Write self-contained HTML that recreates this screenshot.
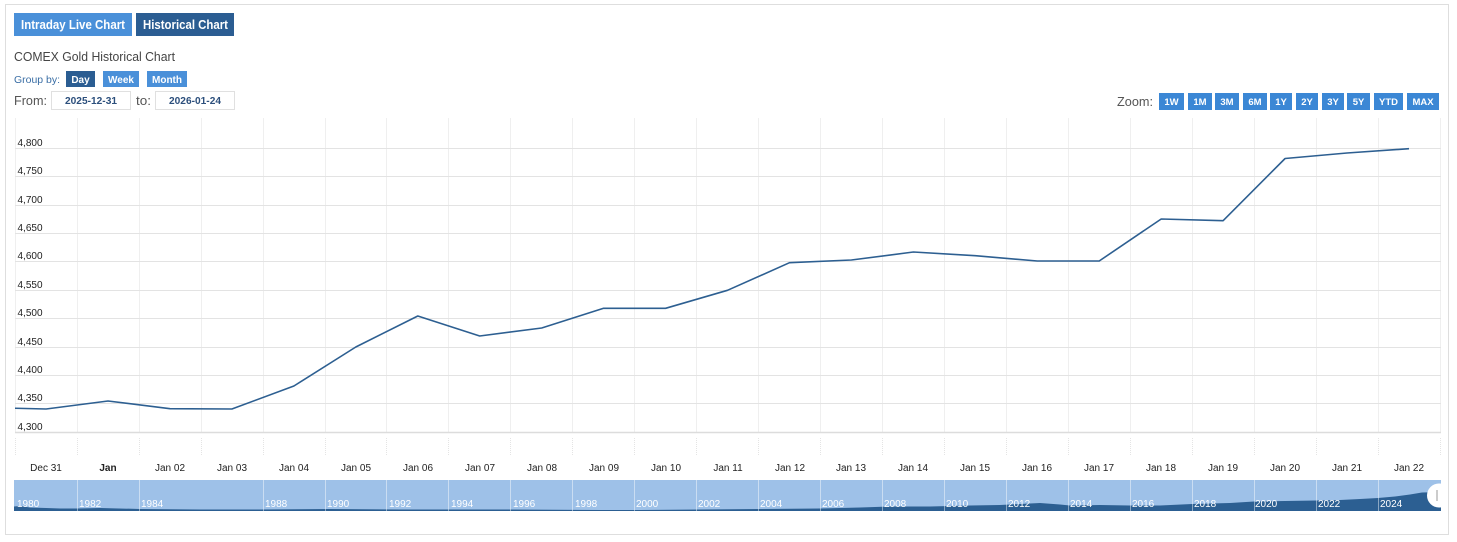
<!DOCTYPE html>
<html><head><meta charset="utf-8"><style>
html,body{margin:0;padding:0;background:#fff;}
svg{display:block;font-family:"Liberation Sans",Arial,sans-serif;}
</style></head><body>
<svg width="1457" height="542" viewBox="0 0 1457 542" xmlns="http://www.w3.org/2000/svg">
<rect x="0" y="0" width="1457" height="542" fill="#fff"/>
<rect x="5.5" y="4.5" width="1443" height="530" fill="#fff" stroke="#dedede"/>

<!-- top tabs -->
<rect x="14" y="13" width="118" height="23" fill="#4a90d9"/>
<text x="21" y="29" font-size="12.5" font-weight="bold" fill="#fff" textLength="104" lengthAdjust="spacingAndGlyphs">Intraday Live Chart</text>
<rect x="136" y="13" width="98" height="23" fill="#2b5d92"/>
<text x="143" y="29" font-size="12.5" font-weight="bold" fill="#fff" textLength="85" lengthAdjust="spacingAndGlyphs">Historical Chart</text>

<text x="14" y="61" font-size="13" fill="#444" textLength="161" lengthAdjust="spacingAndGlyphs">COMEX Gold Historical Chart</text>

<text x="14" y="83" font-size="10" fill="#3a6ea5" textLength="46" lengthAdjust="spacingAndGlyphs">Group by:</text>
<rect x="66" y="71" width="29" height="16" fill="#2b5d92"/>
<text x="80.5" y="83" font-size="10" font-weight="bold" fill="#fff" text-anchor="middle">Day</text>
<rect x="103" y="71" width="36" height="16" fill="#4a90d9"/>
<text x="121" y="83" font-size="10" font-weight="bold" fill="#fff" text-anchor="middle">Week</text>
<rect x="147" y="71" width="40" height="16" fill="#4a90d9"/>
<text x="167" y="83" font-size="10" font-weight="bold" fill="#fff" text-anchor="middle">Month</text>

<text x="14" y="105" font-size="12.5" fill="#555" textLength="33" lengthAdjust="spacingAndGlyphs">From:</text>
<rect x="51.5" y="91.5" width="79" height="18" fill="#fff" stroke="#e0e0e0"/>
<text x="91" y="104" font-size="10" font-weight="bold" fill="#2c4f7c" text-anchor="middle" textLength="52" lengthAdjust="spacingAndGlyphs">2025-12-31</text>
<text x="136" y="105" font-size="12.5" fill="#555" textLength="15" lengthAdjust="spacingAndGlyphs">to:</text>
<rect x="155.5" y="91.5" width="79" height="18" fill="#fff" stroke="#e0e0e0"/>
<text x="195" y="104" font-size="10" font-weight="bold" fill="#2c4f7c" text-anchor="middle" textLength="52" lengthAdjust="spacingAndGlyphs">2026-01-24</text>

<!-- zoom -->
<text x="1117" y="106" font-size="12.5" fill="#555" textLength="36" lengthAdjust="spacingAndGlyphs">Zoom:</text>
<g font-size="9.5" font-weight="bold" fill="#fff" text-anchor="middle">
<rect x="1159" y="93" width="25" height="17" fill="#3b87d5"/><text x="1171.5" y="105">1W</text>
<rect x="1188" y="93" width="24" height="17" fill="#3b87d5"/><text x="1200" y="105">1M</text>
<rect x="1215" y="93" width="24" height="17" fill="#3b87d5"/><text x="1227" y="105">3M</text>
<rect x="1243" y="93" width="24" height="17" fill="#3b87d5"/><text x="1255" y="105">6M</text>
<rect x="1270" y="93" width="22" height="17" fill="#3b87d5"/><text x="1281" y="105">1Y</text>
<rect x="1296" y="93" width="22" height="17" fill="#3b87d5"/><text x="1307" y="105">2Y</text>
<rect x="1322" y="93" width="22" height="17" fill="#3b87d5"/><text x="1333" y="105">3Y</text>
<rect x="1347" y="93" width="23" height="17" fill="#3b87d5"/><text x="1358.5" y="105">5Y</text>
<rect x="1374" y="93" width="29" height="17" fill="#3b87d5"/><text x="1388.5" y="105">YTD</text>
<rect x="1407" y="93" width="32" height="17" fill="#3b87d5"/><text x="1423" y="105">MAX</text>
</g>

<!-- vertical gridlines -->
<g stroke="#efefef" stroke-width="1">
<line x1="15.5" y1="118" x2="15.5" y2="432"/>
<line x1="77.5" y1="118" x2="77.5" y2="432"/>
<line x1="139.5" y1="118" x2="139.5" y2="432"/>
<line x1="201.5" y1="118" x2="201.5" y2="432"/>
<line x1="263.5" y1="118" x2="263.5" y2="432"/>
<line x1="325.5" y1="118" x2="325.5" y2="432"/>
<line x1="386.5" y1="118" x2="386.5" y2="432"/>
<line x1="448.5" y1="118" x2="448.5" y2="432"/>
<line x1="510.5" y1="118" x2="510.5" y2="432"/>
<line x1="572.5" y1="118" x2="572.5" y2="432"/>
<line x1="634.5" y1="118" x2="634.5" y2="432"/>
<line x1="696.5" y1="118" x2="696.5" y2="432"/>
<line x1="758.5" y1="118" x2="758.5" y2="432"/>
<line x1="820.5" y1="118" x2="820.5" y2="432"/>
<line x1="882.5" y1="118" x2="882.5" y2="432"/>
<line x1="944.5" y1="118" x2="944.5" y2="432"/>
<line x1="1006.5" y1="118" x2="1006.5" y2="432"/>
<line x1="1068.5" y1="118" x2="1068.5" y2="432"/>
<line x1="1130.5" y1="118" x2="1130.5" y2="432"/>
<line x1="1192.5" y1="118" x2="1192.5" y2="432"/>
<line x1="1254.5" y1="118" x2="1254.5" y2="432"/>
<line x1="1316.5" y1="118" x2="1316.5" y2="432"/>
<line x1="1378.5" y1="118" x2="1378.5" y2="432"/>
<line x1="1440.5" y1="118" x2="1440.5" y2="432"/>
</g>
<!-- x tick dotted -->
<g stroke="#e4e4e4" stroke-width="1" stroke-dasharray="1,1">
<line x1="15.5" y1="438" x2="15.5" y2="455"/>
<line x1="77.5" y1="438" x2="77.5" y2="455"/>
<line x1="139.5" y1="438" x2="139.5" y2="455"/>
<line x1="201.5" y1="438" x2="201.5" y2="455"/>
<line x1="263.5" y1="438" x2="263.5" y2="455"/>
<line x1="325.5" y1="438" x2="325.5" y2="455"/>
<line x1="386.5" y1="438" x2="386.5" y2="455"/>
<line x1="448.5" y1="438" x2="448.5" y2="455"/>
<line x1="510.5" y1="438" x2="510.5" y2="455"/>
<line x1="572.5" y1="438" x2="572.5" y2="455"/>
<line x1="634.5" y1="438" x2="634.5" y2="455"/>
<line x1="696.5" y1="438" x2="696.5" y2="455"/>
<line x1="758.5" y1="438" x2="758.5" y2="455"/>
<line x1="820.5" y1="438" x2="820.5" y2="455"/>
<line x1="882.5" y1="438" x2="882.5" y2="455"/>
<line x1="944.5" y1="438" x2="944.5" y2="455"/>
<line x1="1006.5" y1="438" x2="1006.5" y2="455"/>
<line x1="1068.5" y1="438" x2="1068.5" y2="455"/>
<line x1="1130.5" y1="438" x2="1130.5" y2="455"/>
<line x1="1192.5" y1="438" x2="1192.5" y2="455"/>
<line x1="1254.5" y1="438" x2="1254.5" y2="455"/>
<line x1="1316.5" y1="438" x2="1316.5" y2="455"/>
<line x1="1378.5" y1="438" x2="1378.5" y2="455"/>
<line x1="1440.5" y1="438" x2="1440.5" y2="455"/>
</g>

<!-- horizontal gridlines -->
<g stroke="#e3e3e3" stroke-width="1">
<line x1="15" y1="148.5" x2="1441" y2="148.5"/>
<line x1="15" y1="176.5" x2="1441" y2="176.5"/>
<line x1="15" y1="205.5" x2="1441" y2="205.5"/>
<line x1="15" y1="233.5" x2="1441" y2="233.5"/>
<line x1="15" y1="261.5" x2="1441" y2="261.5"/>
<line x1="15" y1="290.5" x2="1441" y2="290.5"/>
<line x1="15" y1="318.5" x2="1441" y2="318.5"/>
<line x1="15" y1="347.5" x2="1441" y2="347.5"/>
<line x1="15" y1="375.5" x2="1441" y2="375.5"/>
<line x1="15" y1="403.5" x2="1441" y2="403.5"/>
</g>
<line x1="15" y1="432.5" x2="1441" y2="432.5" stroke="#dcdcdc" stroke-width="1.5"/>

<!-- y labels -->
<g font-size="10" fill="#222">
<text x="17.5" y="146">4,800</text>
<text x="17.5" y="174">4,750</text>
<text x="17.5" y="203">4,700</text>
<text x="17.5" y="231">4,650</text>
<text x="17.5" y="259">4,600</text>
<text x="17.5" y="288">4,550</text>
<text x="17.5" y="316">4,500</text>
<text x="17.5" y="345">4,450</text>
<text x="17.5" y="373">4,400</text>
<text x="17.5" y="401">4,350</text>
<text x="17.5" y="430">4,300</text>
</g>

<!-- series -->
<clipPath id="pc"><rect x="15" y="110" width="1426" height="330"/></clipPath>
<polyline clip-path="url(#pc)" fill="none" stroke="#2d5f91" stroke-width="1.6" stroke-linejoin="round"
points="-15.9,407.5 46.1,409 108,401 170,408.7 231.9,409 293.9,386 355.8,347 417.8,316 479.7,336 541.7,328 603.6,308.3 665.6,308.3 727.5,290.3 789.5,262.7 851.4,260 913.4,252 975.3,255.7 1037.3,261 1099.2,261 1161.2,219 1223.1,220.7 1285.1,158.5 1347,153 1409,148.7"/>

<!-- x labels -->
<g font-size="10" fill="#222" text-anchor="middle">
<text x="46" y="471">Dec 31</text>
<text x="108" y="471" font-weight="bold">Jan</text>
<text x="170" y="471">Jan 02</text>
<text x="232" y="471">Jan 03</text>
<text x="294" y="471">Jan 04</text>
<text x="356" y="471">Jan 05</text>
<text x="418" y="471">Jan 06</text>
<text x="480" y="471">Jan 07</text>
<text x="542" y="471">Jan 08</text>
<text x="604" y="471">Jan 09</text>
<text x="666" y="471">Jan 10</text>
<text x="728" y="471">Jan 11</text>
<text x="790" y="471">Jan 12</text>
<text x="851" y="471">Jan 13</text>
<text x="913" y="471">Jan 14</text>
<text x="975" y="471">Jan 15</text>
<text x="1037" y="471">Jan 16</text>
<text x="1099" y="471">Jan 17</text>
<text x="1161" y="471">Jan 18</text>
<text x="1223" y="471">Jan 19</text>
<text x="1285" y="471">Jan 20</text>
<text x="1347" y="471">Jan 21</text>
<text x="1409" y="471">Jan 22</text>
</g>

<!-- navigator -->
<clipPath id="nc"><rect x="14" y="480" width="1427" height="31"/></clipPath>
<g clip-path="url(#nc)">
<rect x="14" y="480" width="1427" height="31" fill="#9ec1e8"/>
<path fill="#2c5f92" d="M14,511 L14,506.5 L20,506 L30,507.5 L46,508 L60,508.5 L77,508.5 L100,508 L140,509 L200,509.5 L260,509.5 L330,509 L400,509.5 L500,509.5 L600,510 L640,510 L700,509.5 L760,509 L820,508.5 L860,507.5 L890,506.5 L930,506.5 L970,505.5 L1000,505 L1020,504 L1040,503 L1060,504.5 L1070,505.5 L1100,505 L1130,505.5 L1160,505.5 L1192,504 L1230,503 L1254,501.5 L1285,501 L1316,500.5 L1340,500 L1360,499 L1378,498 L1395,496.5 L1410,494.5 L1422,492.5 L1441,492 L1441,511 Z"/>
<g stroke="#ffffff" stroke-opacity="0.45" stroke-width="1">
<line x1="77.5" y1="480" x2="77.5" y2="511"/>
<line x1="139.5" y1="480" x2="139.5" y2="511"/>
<line x1="263.5" y1="480" x2="263.5" y2="511"/>
<line x1="325.5" y1="480" x2="325.5" y2="511"/>
<line x1="386.5" y1="480" x2="386.5" y2="511"/>
<line x1="448.5" y1="480" x2="448.5" y2="511"/>
<line x1="510.5" y1="480" x2="510.5" y2="511"/>
<line x1="572.5" y1="480" x2="572.5" y2="511"/>
<line x1="634.5" y1="480" x2="634.5" y2="511"/>
<line x1="696.5" y1="480" x2="696.5" y2="511"/>
<line x1="758.5" y1="480" x2="758.5" y2="511"/>
<line x1="820.5" y1="480" x2="820.5" y2="511"/>
<line x1="882.5" y1="480" x2="882.5" y2="511"/>
<line x1="944.5" y1="480" x2="944.5" y2="511"/>
<line x1="1006.5" y1="480" x2="1006.5" y2="511"/>
<line x1="1068.5" y1="480" x2="1068.5" y2="511"/>
<line x1="1130.5" y1="480" x2="1130.5" y2="511"/>
<line x1="1192.5" y1="480" x2="1192.5" y2="511"/>
<line x1="1254.5" y1="480" x2="1254.5" y2="511"/>
<line x1="1316.5" y1="480" x2="1316.5" y2="511"/>
<line x1="1378.5" y1="480" x2="1378.5" y2="511"/>
</g>
<g font-size="10" fill="#fff">
<text x="17" y="507">1980</text>
<text x="79" y="507">1982</text>
<text x="141" y="507">1984</text>
<text x="265" y="507">1988</text>
<text x="327" y="507">1990</text>
<text x="389" y="507">1992</text>
<text x="451" y="507">1994</text>
<text x="513" y="507">1996</text>
<text x="575" y="507">1998</text>
<text x="636" y="507">2000</text>
<text x="698" y="507">2002</text>
<text x="760" y="507">2004</text>
<text x="822" y="507">2006</text>
<text x="884" y="507">2008</text>
<text x="946" y="507">2010</text>
<text x="1008" y="507">2012</text>
<text x="1070" y="507">2014</text>
<text x="1132" y="507">2016</text>
<text x="1194" y="507">2018</text>
<text x="1255" y="507">2020</text>
<text x="1318" y="507">2022</text>
<text x="1380" y="507">2024</text>
</g>
<circle cx="1439" cy="495.5" r="12" fill="#fff"/>
<rect x="1436" y="490" width="2" height="11" fill="#ccc"/>
</g>
</svg>
</body></html>
